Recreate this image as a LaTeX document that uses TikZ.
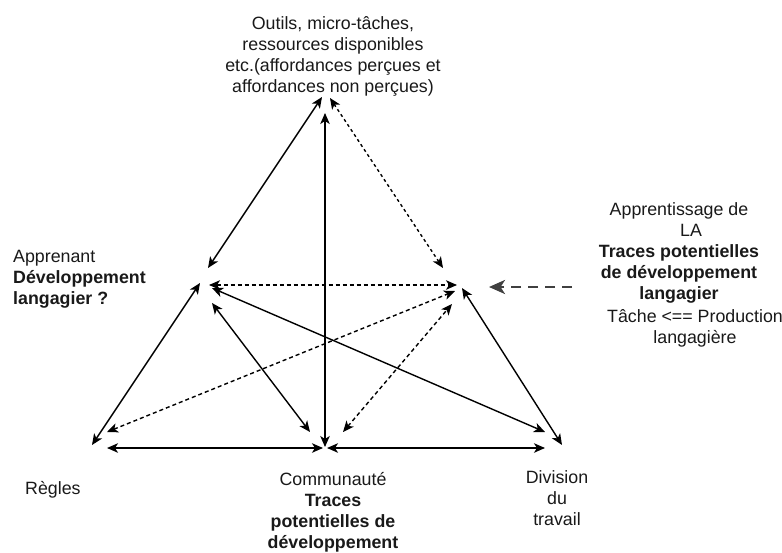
\documentclass[tikz,border=0pt]{standalone}
\usepackage{fontspec}
\setmainfont{Liberation Sans}
\usetikzlibrary{arrows.meta}
\begin{document}
\begin{tikzpicture}[x=1pt,y=-1pt,
  lbl/.style={font=\fontsize{17.8}{21}\selectfont, inner sep=0pt, text=black!90},
  tip/.tip={Stealth[length=11pt,width=9.5pt,inset=3pt]},
  link/.style={line width=1.4pt, tip-tip},
  dlink/.style={link, dash pattern=on 4pt off 3pt},
  flink/.style={link, dash pattern=on 3pt off 3pt},
  bigarrow/.style={line width=2.8pt, dash pattern=on 10pt off 7pt,
    -{Stealth[length=16pt,width=14pt,inset=4.5pt]}}
]
\useasboundingbox (0,0) rectangle (782,552);

% ---- labels ----
\node[lbl, align=center] (outils) at (333,56)
  {Outils, micro-tâches,\\ressources disponibles\\etc.(affordances perçues et\\affordances non perçues)};
\node[lbl, align=left, anchor=west] (sujet) at (13,279)
  {Apprenant\\\textbf{Développement}\\\textbf{langagier ?}};
\node[lbl, align=center] (objet) at (679,253)
  {Apprentissage de\\\hspace*{24pt}LA\\\textbf{Traces potentielles}\\\textbf{de développement}\\\textbf{langagier}};
\node[lbl, align=center] (tache) at (695,328)
  {Tâche <== Production\\langagière};
\node[lbl, anchor=west] (regles) at (25,490) {Règles};
\node[lbl, align=center] (commu) at (333,512)
  {Communauté\\\textbf{Traces}\\\textbf{potentielles de}\\\textbf{développement}};
\node[lbl, align=center] (divis) at (557,498) {Division\\du\\travail};

% ---- connector end points around each corner ----
% tools (top)
\coordinate (tS) at (322,97);  \coordinate (tC) at (325,113); \coordinate (tO) at (330,98);
% subject (left)
\coordinate (sT) at (208,268); \coordinate (sO) at (209,285); \coordinate (sR) at (200,283);
\coordinate (sD) at (212,288); \coordinate (sC) at (212,303);
% object (right)
\coordinate (oT) at (443,268); \coordinate (oS) at (457,285); \coordinate (oR) at (455,291);
\coordinate (oC) at (452,304); \coordinate (oD) at (462,288);
% rules
\coordinate (rS) at (92,445);  \coordinate (rO) at (107,432); \coordinate (rC) at (107,448);
% community
\coordinate (cT) at (325,447); \coordinate (cS) at (310,432); \coordinate (cO) at (343,432);
\coordinate (cR) at (323,448); \coordinate (cD) at (327,448);
% division of labour
\coordinate (dS) at (545,432); \coordinate (dC) at (545,448); \coordinate (dO) at (562,445);
% outcome pointer
\coordinate (pA) at (572,287); \coordinate (pB) at (489,287);

% ---- connectors ----
\draw[link]  (tS) -- (sT);
\draw[link]  (tC) -- (cT);
\draw[flink] (tO) -- (oT);
\draw[dlink] (sO) -- (oS);
\draw[link]  (sR) -- (rS);
\draw[link]  (sD) -- (dS);
\draw[link]  (sC) -- (cS);
\draw[dlink] (rO) -- (oR);
\draw[dlink] (cO) -- (oC);
\draw[link]  (oD) -- (dO);
\draw[link]  (rC) -- (cR);
\draw[link]  (cD) -- (dC);
\draw[bigarrow, black!75] (pA) -- (pB);
\end{tikzpicture}
\end{document}
